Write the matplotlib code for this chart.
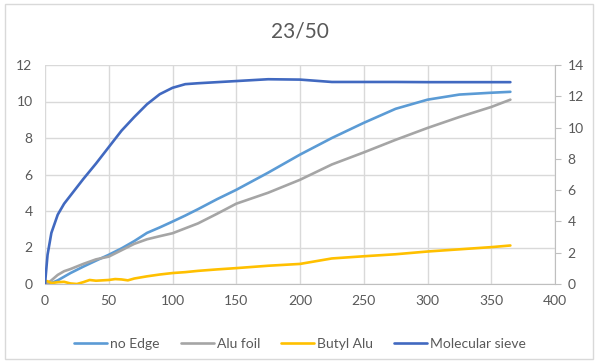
import matplotlib
matplotlib.use("Agg")
import matplotlib.pyplot as plt
from matplotlib.patches import Rectangle

plt.rcParams['font.family'] = ['Lato', 'DejaVu Sans']

title = "23/50"
series_names = ["no Edge", "Alu foil", "Butyl Alu", "Molecular sieve"]
colors = ["#5B9BD5", "#A5A5A5", "#FFC000", "#4169C0"]

days = [0, 2, 5, 10, 15, 20, 30, 40, 50, 60, 70, 80, 90, 100, 110, 120, 135,
        150, 175, 200, 225, 250, 275, 300, 325, 350, 365]
no_edge = [0, 0, 0.05, 0.2, 0.4, 0.6, 0.95, 1.28, 1.6, 1.95, 2.35, 2.8, 3.1, 3.42,
           3.75, 4.1, 4.65, 5.16, 6.1, 7.09, 8.0, 8.83, 9.6, 10.1, 10.38, 10.48, 10.53]
alu_foil = [0, 0.05, 0.2, 0.5, 0.7, 0.82, 1.1, 1.35, 1.5, 1.85, 2.2, 2.45, 2.62, 2.78,
            3.05, 3.32, 3.85, 4.4, 5.0, 5.71, 6.55, 7.21, 7.9, 8.55, 9.15, 9.7, 10.1]
mol_sieve = [0, 1.6, 2.8, 3.8, 4.4, 4.85, 5.75, 6.6, 7.5, 8.4, 9.15, 9.85, 10.4, 10.75,
             10.95, 11.0, 11.06, 11.12, 11.22, 11.2, 11.07, 11.07, 11.07, 11.06, 11.06, 11.06, 11.06]

days_butyl = [0, 2, 5, 10, 15, 20, 25, 30, 35, 40, 50, 55, 60, 65, 70, 80, 90, 100,
              110, 120, 135, 150, 175, 200, 225, 250, 275, 300, 325, 350, 365]
butyl_alu = [0.18, 0.15, 0.05, 0.1, 0.12, 0.03, 0.0, 0.1, 0.22, 0.18, 0.22, 0.27, 0.25,
             0.2, 0.3, 0.42, 0.52, 0.6, 0.65, 0.72, 0.8, 0.87, 1.0, 1.1, 1.4, 1.52,
             1.63, 1.78, 1.9, 2.02, 2.11]

x_ticks = [0, 50, 100, 150, 200, 250, 300, 350, 400]
y_ticks_left = [0, 2, 4, 6, 8, 10, 12]
y_ticks_right = [0, 2, 4, 6, 8, 10, 12, 14]

text_color = "#595959"
grid_color = "#D9D9D9"

fig = plt.figure(figsize=(6, 3.64), dpi=100)
ax = fig.add_axes([45/600, 1-284/364, (555-45)/600, (284-65)/364])

lines = []
for xs, ys, name, c in [(days, no_edge, series_names[0], colors[0]),
                        (days, alu_foil, series_names[1], colors[1]),
                        (days_butyl, butyl_alu, series_names[2], colors[2]),
                        (days, mol_sieve, series_names[3], colors[3])]:
    ln, = ax.plot(xs, ys, color=c, lw=1.9, label=name, solid_capstyle='round',
                  solid_joinstyle='round', zorder=3)
    lines.append(ln)

ax.set_xlim(0, 400)
ax.set_ylim(0, 12)
ax.set_xticks(x_ticks)
ax.set_yticks(y_ticks_left)
ax.grid(True, color=grid_color, lw=1)
ax.set_axisbelow(True)
for s in ["top", "left", "right"]:
    ax.spines[s].set_visible(False)
ax.spines["bottom"].set_color("#BFBFBF")
ax.tick_params(axis='both', length=0, colors=text_color, labelsize=10)
ax.tick_params(axis='x', pad=8)
ax.tick_params(axis='y', pad=9)

ax2 = ax.twinx()
ax2.set_ylim(0, 14)
ax2.set_yticks(y_ticks_right)
for s in ["top", "left", "bottom"]:
    ax2.spines[s].set_visible(False)
ax2.spines["right"].set_color("#BFBFBF")
ax2.tick_params(axis='y', length=4, color="#BFBFBF", labelcolor=text_color,
                labelsize=10, pad=5)

fig.text(0.5, 1-32/364, title, ha='center', va='center', fontsize=15, color=text_color)

fig.legend(handles=lines, labels=series_names, loc='center', ncol=4,
           bbox_to_anchor=(0.5, 1-344/364), frameon=False, fontsize=10,
           handlelength=2.4, handletextpad=0.2, columnspacing=1.5,
           labelcolor=text_color)

fig.patches.append(Rectangle((5/600, 1-359/364), 588/600, 355/364,
                             transform=fig.transFigure, fill=False,
                             edgecolor="#D9D9D9", lw=1))

fig.savefig("out.png", dpi=100)
